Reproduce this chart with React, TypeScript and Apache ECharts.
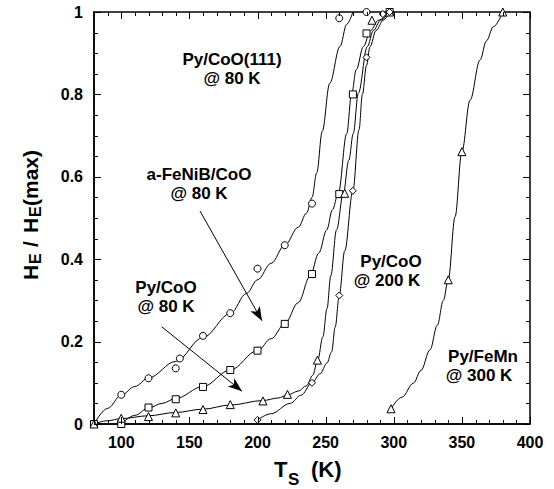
import React, { useEffect, useRef } from "react";
import * as echarts from "echarts";

// ---- data ----
const X_MIN = 80;
const X_MAX = 400;
const xMajorTicks = [100, 150, 200, 250, 300, 350, 400];
const yMajorTicks = [0, 0.2, 0.4, 0.6, 0.8, 1];
const xMinorStep = 10;
const yMinorStep = 0.05;

// Py/CoO(111) @ 80 K  (circles)
const pyCoO111Pts = [[80, 0], [100, 0.071], [120, 0.111], [140, 0.135], [143, 0.159], [160, 0.214], [180, 0.269], [200, 0.377], [220, 0.434], [240, 0.535], [260, 0.985], [280, 1.0]];
const pyCoO111Fit = [[80, 0], [90, 0.038], [100, 0.07], [110, 0.091], [120, 0.112], [140, 0.152], [160, 0.21], [180, 0.268], [192, 0.317], [200, 0.35], [210, 0.39], [220, 0.434], [230, 0.478], [236, 0.512], [240, 0.55], [243.5, 0.61], [247.5, 0.71], [253, 0.827], [260.5, 0.916], [265.5, 0.97], [270, 1.0]];

// a-FeNiB/CoO @ 80 K (squares)
const aFeNiBPts = [[80, 0], [100, 0], [120, 0.04], [140, 0.06], [160, 0.09], [180, 0.131], [200, 0.178], [220, 0.243], [240, 0.364], [260, 0.558], [270, 0.8], [280, 0.948], [297, 1.0]];
const aFeNiBFit = [[100, 0], [110, 0.021], [120, 0.039], [130, 0.05], [140, 0.062], [160, 0.091], [180, 0.131], [200, 0.178], [210, 0.207], [220, 0.243], [230, 0.295], [238.5, 0.358], [245, 0.415], [250.8, 0.471], [255, 0.52], [259.3, 0.56], [265.5, 0.705], [269, 0.8], [272.5, 0.86], [277.7, 0.916], [283, 0.955], [288.7, 0.98], [297, 1.0]];

// Py/CoO @ 80 K (triangles)
const pyCoO80Pts = [[80, 0], [100, 0.014], [120, 0.018], [140, 0.027], [160, 0.035], [180, 0.047], [204, 0.056], [222, 0.072], [244, 0.155], [264, 0.56], [284, 0.98], [297, 1.0]];
const pyCoO80Fit = [[80, 0], [90, 0.008], [100, 0.013], [120, 0.02], [140, 0.028], [160, 0.036], [180, 0.046], [204, 0.057], [215, 0.063], [222.5, 0.071], [230, 0.08], [236, 0.093], [240.5, 0.118], [244.2, 0.155], [248, 0.212], [251, 0.28], [253.8, 0.36], [258, 0.471], [263, 0.56], [267, 0.64], [270.3, 0.705], [274, 0.803], [280.6, 0.916], [285, 0.955], [290.4, 0.98], [297, 1.0]];

// Py/CoO @ 200 K (diamonds)
const pyCoO200Pts = [[200, 0.01], [240, 0.1], [260, 0.312], [270, 0.566], [280, 0.89], [292, 0.995], [297, 1.0]];
const pyCoO200Fit = [[200, 0.01], [210, 0.025], [224, 0.05], [232, 0.07], [240, 0.1], [246, 0.122], [251, 0.148], [254.4, 0.175], [257, 0.235], [260, 0.312], [264, 0.42], [270, 0.566], [274.5, 0.714], [277, 0.8], [280, 0.87], [282.6, 0.916], [287, 0.955], [292.3, 0.98], [297, 1.0]];

// Py/FeMn @ 300 K (triangles)
const pyFeMnPts = [[298, 0.037], [340, 0.35], [350, 0.661], [380, 1.0]];
const pyFeMnFit = [[298, 0.037], [306, 0.065], [314.4, 0.099], [320, 0.13], [326.6, 0.18], [332, 0.24], [336.4, 0.3], [340, 0.35], [345, 0.503], [350, 0.661], [356, 0.786], [363.3, 0.883], [368, 0.93], [373.1, 0.964], [380, 1.0]];

// annotation arrows: [x1, y1, x2, y2] in data units
const arrows = [
  [157.8, 0.517, 203.3, 0.2505],
  [129.7, 0.236, 188.6, 0.0796],
];

const FONT = '"Liberation Sans", Arial, Helvetica, sans-serif';

export default function App() {
  const ref = useRef<HTMLDivElement>(null);

  useEffect(() => {
    document.body.style.margin = "0";
    if (!ref.current) return;
    const chart = echarts.init(ref.current, undefined, { renderer: "svg" });

    const black = "#000";

    const labelText = (text: string, x: number, y: number) => ({
      type: "text",
      x,
      y,
      style: {
        text,
        font: `bold 17px ${FONT}`,
        fill: black,
        textAlign: "center",
        textVerticalAlign: "middle",
      },
    });

    const scatter = (data: number[][], symbol: string, size: number) => ({
      type: "scatter",
      data,
      symbol,
      symbolSize: size,
      clip: false,
      z: 5,
      itemStyle: { color: "#fff", borderColor: black, borderWidth: 1, opacity: 1 },
      emphasis: { disabled: true },
    });

    const fit = (data: number[][], extra: any = {}) => ({
      type: "line",
      data,
      symbol: "none",
      smooth: 0.35,
      smoothMonotone: "x",
      clip: false,
      z: 3,
      lineStyle: { color: black, width: 1 },
      emphasis: { disabled: true },
      ...extra,
    });

    const txt = (text: string, x: number, y: number, size: number) => ({
      type: "text", x, y,
      style: { text, font: `bold ${size}px ${FONT}`, fill: black, textAlign: "left", textVerticalAlign: "middle" },
    });

    const baseGraphic: any[] = [
      labelText("Py/CoO(111)", 232, 59),
      labelText("@ 80 K", 232, 78),
      labelText("a-FeNiB/CoO", 199, 174),
      labelText("@ 80 K", 199, 193),
      labelText("Py/CoO", 166, 287),
      labelText("@ 80 K", 166, 306),
      labelText("Py/CoO", 391, 261),
      labelText("@ 200 K", 387, 280),
      labelText("Py/FeMn", 483, 356),
      labelText("@ 300 K", 479, 375),
      // x axis title T_S (K)
      txt("T", 274, 469, 22),
      txt("S", 288, 479, 17),
      txt("(K)", 311, 469, 22),
      // y axis title H_E / H_E(max)
      {
        type: "group", x: 30, y: 214, rotation: Math.PI / 2,
        children: [
          txt("H", -66, 0, 21),
          txt("E", -50, 5, 16),
          txt("/", -33, 0, 21),
          txt("H", -19, 0, 21),
          txt("E", -3, 5, 16),
          txt("(max)", 8, 0, 21),
        ],
      },
    ];

    const option: any = {
      animation: false,
      grid: {
        left: 94, right: 24, top: 12, bottom: 65, containLabel: false,
        show: true, borderColor: black, borderWidth: 1.5, backgroundColor: "transparent",
      },
      xAxis: {
        type: "value", min: X_MIN, max: X_MAX,
        axisLine: { show: true, lineStyle: { color: black, width: 1.5 } },
        axisTick: { show: false },
        axisLabel: {
          show: true, customValues: xMajorTicks, margin: 10,
          color: black, fontFamily: FONT, fontWeight: "bold", fontSize: 16,
        },
        splitLine: { show: false },
      },
      yAxis: {
        type: "value", min: 0, max: 1, interval: 0.2,
        axisLine: { show: true, lineStyle: { color: black, width: 1.5 } },
        axisTick: { show: false },
        axisLabel: {
          show: true, margin: 11, color: black, fontFamily: FONT, fontWeight: "bold", fontSize: 16,
          formatter: (v: number) => (v === 0 ? "0" : v >= 0.999 ? "1" : v.toFixed(1)),
        },
        splitLine: { show: false },
      },
      series: [
        fit(pyCoO111Fit),
        fit(aFeNiBFit),
        fit(pyCoO80Fit),
        fit(pyCoO200Fit),
        fit(pyFeMnFit, {
          markLine: {
            silent: true,
            symbol: ["none", "arrow"],
            symbolSize: [8, 14],
            label: { show: false },
            emphasis: { disabled: true },
            lineStyle: { color: black, width: 1, type: "solid" },
            data: arrows.map((a) => [{ coord: [a[0], a[1]] }, { coord: [a[2], a[3]] }]),
          },
        }),
        scatter(pyCoO111Pts, "circle", 7),
        scatter(aFeNiBPts, "rect", 7),
        scatter(pyCoO80Pts, "triangle", 8),
        scatter(pyCoO200Pts, "diamond", 7),
        scatter(pyFeMnPts, "triangle", 8),
      ],
      graphic: baseGraphic,
    };

    chart.setOption(option);

    // tick marks on all four sides, placed through the axes' own scales
    try {
      const crisp = (p: number) => Math.round(p) + 0.5;
      const toPx = (x: number, y: number) =>
        chart.convertToPixel({ gridIndex: 0 }, [x, y]) as number[];
      const tickLines: any[] = [];
      const lineEl = (x1: number, y1: number, x2: number, y2: number) => ({
        type: "line",
        z: 50,
        shape: { x1, y1, x2, y2 },
        style: { stroke: black, lineWidth: 1 },
      });
      const nx = Math.round((X_MAX - X_MIN) / xMinorStep);
      for (let i = 0; i <= nx; i++) {
        const v = X_MIN + i * xMinorStep;
        const len = xMajorTicks.indexOf(v) >= 0 ? 7 : 4;
        const pb = toPx(v, 0);
        const pt = toPx(v, 1);
        const x = crisp(pb[0]);
        tickLines.push(lineEl(x, pb[1], x, pb[1] - len));
        tickLines.push(lineEl(x, pt[1], x, pt[1] + len));
      }
      const ny = Math.round(1 / yMinorStep);
      for (let i = 0; i <= ny; i++) {
        const v = i * yMinorStep;
        const len = yMajorTicks.some((t) => Math.abs(t - v) < 1e-6) ? 7 : 4;
        const pl = toPx(X_MIN, v);
        const pr = toPx(X_MAX, v);
        const y = crisp(pl[1]);
        tickLines.push(lineEl(pl[0], y, pl[0] + len, y));
        tickLines.push(lineEl(pr[0], y, pr[0] - len, y));
      }
      chart.setOption({ graphic: [...baseGraphic, ...tickLines] });
    } catch (e) {
      // keep the chart even if tick placement fails
    }

    return () => chart.dispose();
  }, []);

  return <div ref={ref} style={{ width: 554, height: 489 }} />;
}
